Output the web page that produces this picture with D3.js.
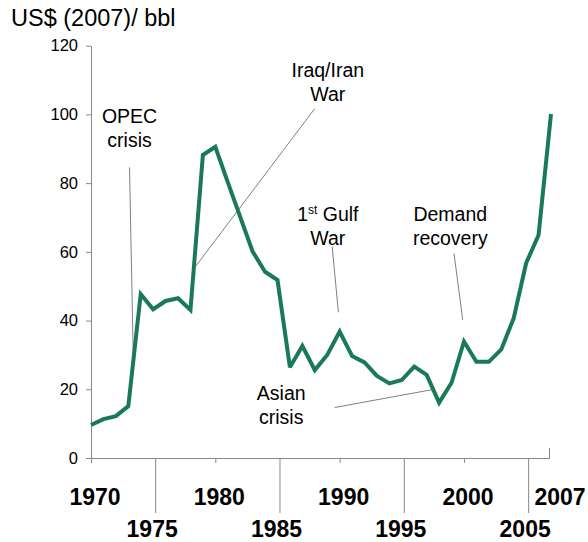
<!DOCTYPE html>
<html><head><meta charset="utf-8">
<script src="https://cdn.jsdelivr.net/npm/d3@7"></script>
<style>
html,body{margin:0;padding:0;background:#fff;}
svg{display:block;font-family:"Liberation Sans",Arial,sans-serif;}
</style></head>
<body><svg id="c" width="588" height="542"></svg>
<script>
const years = [1970,1971,1972,1973,1974,1975,1976,1977,1978,1979,1980,1981,1982,1983,1984,1985,1986,1987,1988,1989,1990,1991,1992,1993,1994,1995,1996,1997,1998,1999,2000,2001,2002,2003,2004,2005,2006,2007];
const prices = [9.6,11.3,12.2,15.1,47.7,43.3,45.7,46.5,43.1,88.2,90.6,80.3,70.2,60.1,54.2,51.8,26.4,32.6,25.6,30.0,36.8,29.7,27.8,23.9,21.7,22.7,26.6,24.2,16.1,21.9,33.9,28.0,28.0,31.6,40.7,56.7,64.9,100.1];
const yTicks = [0,20,40,60,80,100,120];
const xTicksUpper = [1970,1980,1990,2000,2007];
const xTicksLower = [1975,1985,1995,2005];
const yTitle = "US$ (2007)/ bbl";
const annotations = [
  {lines:["OPEC","crisis"], tx:1973.1, ty:97.5, from:[1973.1,84.6], to:[1973.4,29.1]},
  {lines:["Iraq/Iran","War"], tx:1989.05, ty:110.9, from:[1988.0,101.7], to:[1978.4,55.7]},
  {lines:["1<st>","War"], tx:1989.05, ty:69.1, from:[1989.4,61.5], to:[1989.9,42.4]},
  {lines:["Demand","recovery"], tx:1998.9, ty:69.1, from:[1999.2,59.5], to:[1999.9,40.2]},
  {lines:["Asian","crisis"], tx:1985.3, ty:16.9, from:[1989.6,14.7], to:[1997.6,20.0]}
];

const svg = d3.select("#c");
const x = d3.scaleLinear().domain([1970,2007]).range([91,551]);
const y = d3.scaleLinear().domain([0,120]).range([458,45.7]);
const axisCol = "#888";

const yAxis = d3.axisLeft(y).tickValues(yTicks).tickSize(5).tickSizeOuter(0);
const gy = svg.append("g").attr("transform","translate(91,0)").call(yAxis);
gy.select(".domain").attr("stroke",axisCol);
gy.selectAll(".tick line").attr("stroke",axisCol);
gy.selectAll(".tick text").attr("font-size","16.5px").attr("fill","#000")
  .attr("font-family","Liberation Sans, Arial, sans-serif").attr("x",-13);

const gx = svg.append("g").attr("transform","translate(0,458)");
gx.append("line").attr("x1",x(1970)).attr("x2",x(2007)-1.5).attr("y1",0.5).attr("y2",0.5).attr("stroke",axisCol);
gx.selectAll("line.short").data([1970,1980,1990,2000]).join("line").attr("class","short")
  .attr("x1",d=>x(d)+0.5).attr("x2",d=>x(d)+0.5).attr("y1",0).attr("y2",5).attr("stroke",axisCol);
gx.selectAll("line.long").data(xTicksLower).join("line").attr("class","long")
  .attr("x1",d=>x(d)+2.5).attr("x2",d=>x(d)+2.5).attr("y1",0).attr("y2",55).attr("stroke",axisCol);
gx.append("line").attr("x1",x(2007)-1.5).attr("x2",x(2007)-1.5).attr("y1",-10).attr("y2",1).attr("stroke",axisCol);
gx.selectAll("text.up").data(xTicksUpper).join("text").attr("class","up")
  .attr("x",d=>d===2007 ? x(d)+9 : x(d)+4).attr("y",47).attr("text-anchor","middle")
  .attr("font-size","23px").attr("font-weight","bold").text(d=>d);
gx.selectAll("text.lo").data(xTicksLower).join("text").attr("class","lo")
  .attr("x",d=>x(d)-1).attr("y",79).attr("text-anchor","middle")
  .attr("font-size","23px").attr("font-weight","bold").text(d=>d);

svg.append("text").attr("x",11).attr("y",26).attr("font-size","23.5px").text(yTitle);

svg.selectAll("line.lead").data(annotations).join("line").attr("class","lead")
  .attr("x1",d=>x(d.from[0])).attr("y1",d=>y(d.from[1]))
  .attr("x2",d=>x(d.to[0])).attr("y2",d=>y(d.to[1]))
  .attr("stroke","#808080").attr("stroke-width",1);

annotations.forEach(a=>{
  const t = svg.append("text").attr("text-anchor","middle").attr("font-size","19.5px").attr("fill","#000");
  a.lines.forEach((ln,i)=>{
    const ts = t.append("tspan").attr("x",x(a.tx)).attr("y",y(a.ty)+i*24);
    if (ln==="1<st>") {
      ts.text("1");
      t.append("tspan").attr("font-size","12px").attr("dy",-7).text("st");
      t.append("tspan").attr("dy",7).text(" Gulf");
    } else ts.text(ln);
  });
});

const line = d3.line().x((d,i)=>x(years[i])).y(d=>y(d));
svg.append("path").datum(prices).attr("d",line).attr("fill","none")
  .attr("stroke","#1a7a55").attr("stroke-width",4).attr("stroke-linejoin","miter").attr("stroke-miterlimit",3);
</script></body></html>
